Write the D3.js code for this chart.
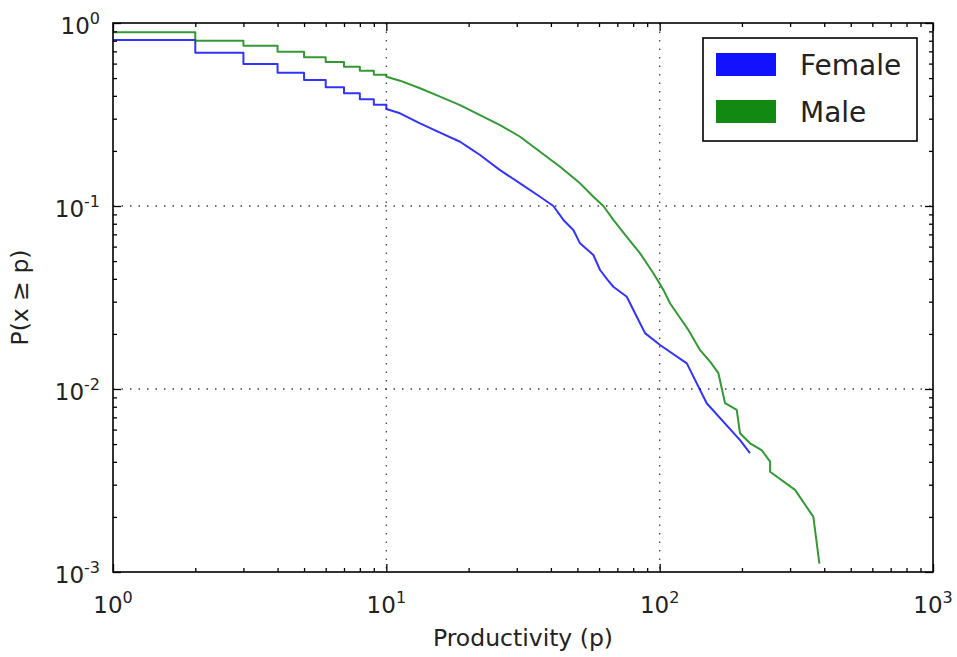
<!DOCTYPE html>
<html>
<head>
<meta charset="utf-8">
<script src="https://cdn.jsdelivr.net/npm/d3@7"></script>
<style>
  body { margin: 0; background: #ffffff; }
  svg { font-family: "DejaVu Sans", sans-serif; }
</style>
</head>
<body>
<script>
var W = 957
var H = 657

// CCDF: productivity p and P(x >= p)
var femaleP = [1, 2, 2, 3, 3, 4, 4, 5, 5, 6, 6, 7, 7, 8, 8, 9, 9, 10, 10, 11.22, 13.28, 15.72, 18.61, 20.24, 22.02, 26.06, 30.85, 36.51, 40.84, 44.43, 48.33, 51.13, 57.2, 60.52, 64.5, 67.7, 75.79, 82.47, 88.4, 100.3, 125.7, 148.6, 196.8, 214];
var femaleCCDF = [0.807, 0.807, 0.688, 0.688, 0.597, 0.597, 0.535, 0.535, 0.488, 0.488, 0.445, 0.445, 0.413, 0.413, 0.383, 0.383, 0.357, 0.357, 0.339, 0.321, 0.283, 0.2515, 0.2245, 0.2067, 0.19, 0.157, 0.133, 0.1124, 0.1, 0.0839, 0.0739, 0.0625, 0.054, 0.0447, 0.0395, 0.0362, 0.0319, 0.0248, 0.0202, 0.0174, 0.0138, 0.00836, 0.00526, 0.00446];

var maleP = [1, 2, 2, 3, 3, 4, 4, 5, 5, 6, 6, 7, 7, 8, 8, 9, 9, 10, 10, 11.22, 13.28, 15.72, 18.61, 22.02, 26.06, 30.85, 36.51, 43.21, 51.13, 57.2, 62.23, 67.7, 75.79, 84.79, 94.84, 103.2, 109.1, 127.4, 140.6, 152.9, 164, 173.5, 191.4, 196.8, 214, 236, 253.5, 253.5, 312.8, 365, 384];
var maleCCDF = [0.889, 0.889, 0.80, 0.80, 0.751, 0.751, 0.697, 0.697, 0.649, 0.649, 0.612, 0.612, 0.577, 0.577, 0.549, 0.549, 0.522, 0.522, 0.509, 0.484, 0.44, 0.396, 0.356, 0.314, 0.277, 0.239, 0.198, 0.164, 0.133, 0.1124, 0.1, 0.0839, 0.0679, 0.0551, 0.0429, 0.0348, 0.0294, 0.021, 0.0163, 0.0141, 0.0122, 0.00836, 0.00768, 0.00573, 0.00505, 0.00464, 0.00401, 0.00353, 0.00281, 0.002, 0.00111];

var seriesNames = ["Female", "Male"];
var seriesColors = ["#0000ff", "#008000"];

var xDomain = [1, 1000];
var yDomain = [0.001, 1];
var xMajor = [1, 10, 100, 1000];
var yMajor = [0.001, 0.01, 0.1, 1];

var margin = { left: 113, top: 23, right: 24, bottom: 85 };
var w = W - margin.left - margin.right;
var h = H - margin.top - margin.bottom;

var x = d3.scaleLog().domain(xDomain).range([0, w]);
var y = d3.scaleLog().domain(yDomain).range([h, 0]);

// minor ticks 2..9 in each decade
function minors(domain) {
  var out = [];
  for (var d = domain[0]; d < domain[1]; d *= 10)
    for (var k = 2; k <= 9; k++) out.push(d * k);
  return out;
}

var svg = d3.select("body").append("svg")
    .attr("width", W)
    .attr("height", H);

var g = svg.append("g")
    .attr("transform", "translate(" + margin.left + "," + margin.top + ")");

// dotted grid at the major ticks
g.append("g")
    .attr("class", "grid")
    .selectAll("line.gx").data(xMajor.slice(1, -1)).enter()
  .append("line")
    .attr("x1", function(d) { return x(d); })
    .attr("x2", function(d) { return x(d); })
    .attr("y1", 0)
    .attr("y2", h);
g.select(".grid").selectAll("line.gy").data(yMajor.slice(1, -1)).enter()
  .append("line")
    .attr("x1", 0)
    .attr("x2", w)
    .attr("y1", function(d) { return y(d); })
    .attr("y2", function(d) { return y(d); });
g.selectAll(".grid line")
    .attr("stroke", "#444")
    .attr("stroke-width", 1.3)
    .attr("stroke-dasharray", "1.5,7");

// the two curves
var line = d3.line()
    .x(function(d) { return x(d[0]); })
    .y(function(d) { return y(d[1]); });

var curves = [d3.zip(femaleP, femaleCCDF), d3.zip(maleP, maleCCDF)];

g.selectAll("path.curve").data(curves).enter()
  .append("path")
    .attr("class", "curve")
    .attr("fill", "none")
    .attr("stroke", function(d, i) { return seriesColors[i]; })
    .attr("stroke-opacity", 0.8)
    .attr("stroke-width", 2)
    .attr("stroke-linejoin", "round")
    .attr("d", line);

// ticks point inwards on all four sides
function drawTicks(axisFn, scale, vals, size, tr) {
  var a = g.append("g")
      .attr("transform", tr)
      .call(axisFn(scale).tickValues(vals).tickSize(-size).tickFormat(""));
  a.select(".domain").remove();
  a.selectAll("line").attr("stroke", "#000").attr("stroke-width", 1.3);
}
drawTicks(d3.axisBottom, x, xMajor, 8, "translate(0," + h + ")");
drawTicks(d3.axisBottom, x, minors(xDomain), 4, "translate(0," + h + ")");
drawTicks(d3.axisTop, x, xMajor, 8, "translate(0,0)");
drawTicks(d3.axisTop, x, minors(xDomain), 4, "translate(0,0)");
drawTicks(d3.axisLeft, y, yMajor, 8, "translate(0,0)");
drawTicks(d3.axisLeft, y, minors(yDomain), 4, "translate(0,0)");
drawTicks(d3.axisRight, y, yMajor, 8, "translate(" + w + ",0)");
drawTicks(d3.axisRight, y, minors(yDomain), 4, "translate(" + w + ",0)");

g.append("rect")
    .attr("width", w)
    .attr("height", h)
    .attr("fill", "none")
    .attr("stroke", "#000")
    .attr("stroke-width", 1.6);

// tick labels as 10 with a superscript exponent
var xl = g.selectAll("text.xl").data(xMajor).enter()
  .append("text")
    .attr("class", "xl")
    .attr("x", function(d) { return x(d); })
    .attr("y", h + 41)
    .attr("text-anchor", "middle")
    .style("font-size", "23px")
    .style("fill", "#222");
xl.append("tspan").text("10");
xl.append("tspan")
    .attr("dy", -10)
    .style("font-size", "16px")
    .text(function(d) { return Math.round(Math.log10(d)); });

var yl = g.selectAll("text.yl").data(yMajor).enter()
  .append("text")
    .attr("class", "yl")
    .attr("x", -13)
    .attr("y", function(d) { return y(d) + 11; })
    .attr("text-anchor", "end")
    .style("font-size", "23px")
    .style("fill", "#222");
yl.append("tspan").text("10");
yl.append("tspan")
    .attr("dy", -10)
    .style("font-size", "16px")
    .text(function(d) { return Math.round(Math.log10(d)); });

g.append("text")
    .attr("x", w / 2)
    .attr("y", h + 74)
    .attr("text-anchor", "middle")
    .style("font-size", "23.5px")
    .style("fill", "#222")
    .text("Productivity (p)");

g.append("text")
    .attr("transform", "translate(" + (-85) + "," + (h / 2) + ") rotate(-90)")
    .attr("text-anchor", "middle")
    .style("font-size", "23.5px")
    .style("fill", "#222")
    .text("P(x \u2265 p)");

// legend
var legend = g.append("g")
    .attr("transform", "translate(" + (703 - margin.left) + "," + (38 - margin.top) + ")");

legend.append("rect")
    .attr("width", 214)
    .attr("height", 103)
    .attr("fill", "#fff")
    .attr("stroke", "#000")
    .attr("stroke-width", 1.6);

legend.selectAll("rect.sw").data(seriesNames).enter()
  .append("rect")
    .attr("class", "sw")
    .attr("x", 13)
    .attr("y", function(d, i) { return 15 + i * 47; })
    .attr("width", 60)
    .attr("height", 23)
    .attr("fill", function(d, i) { return seriesColors[i]; })
    .attr("fill-opacity", 0.93);

legend.selectAll("text.lt").data(seriesNames).enter()
  .append("text")
    .attr("class", "lt")
    .attr("x", 97)
    .attr("y", function(d, i) { return 37 + i * 47; })
    .style("font-size", "28px")
    .style("fill", "#222")
    .text(function(d) { return d; });
</script>
</body>
</html>
